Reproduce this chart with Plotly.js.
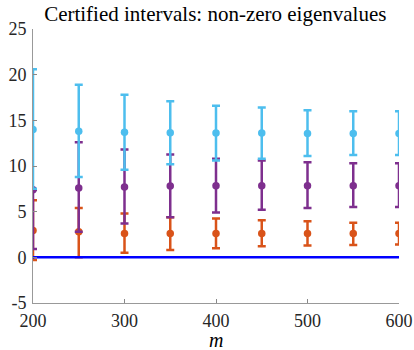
<!DOCTYPE html>
<html>
<head>
<meta charset="utf-8">
<script src="https://cdn.plot.ly/plotly-3.0.1.min.js"></script>
<style>html,body{margin:0;padding:0;background:#fff}</style>
</head>
<body>
<div id="chart" style="width:414px;height:350px"></div>
<script>
var m = [200, 250, 300, 350, 400, 450, 500, 550, 600];

var blueCenter = [14.0, 13.8, 13.7, 13.65, 13.6, 13.6, 13.55, 13.55, 13.55];
var blueUpper  = [20.6, 18.9, 17.8, 17.1, 16.6, 16.4, 16.1, 16.0, 16.0];
var blueLower  = [7.5, 8.8, 9.6, 10.2, 10.6, 10.8, 11.1, 11.2, 11.2];

var purpleCenter = [7.4, 7.6, 7.7, 7.8, 7.85, 7.85, 7.85, 7.85, 7.85];
var purpleUpper  = [7.4, 12.6, 11.8, 11.25, 10.8, 10.6, 10.4, 10.3, 10.3];
var purpleLower  = [0.9, 2.8, 3.7, 4.4, 4.9, 5.2, 5.4, 5.5, 5.5];

var orangeCenter = [2.95, 2.8, 2.6, 2.6, 2.6, 2.6, 2.6, 2.6, 2.6];
var orangeUpper  = [6.25, 5.4, 4.8, 4.4, 4.25, 4.05, 3.95, 3.8, 3.8];
var orangeLower  = [-0.3, 0.0, 0.5, 0.8, 1.0, 1.2, 1.3, 1.35, 1.4];

var zeroLine = [0, 0];
var zeroX = [200, 600];

var yTicks = [-5, 0, 5, 10, 15, 20, 25];
var yTickText = ['-5', '0', '5', '10', '15', '20', '25'];
var xTicks = [200, 300, 400, 500, 600];

function diff(a, b) { return a.map(function (v, i) { return v - b[i]; }); }

function series(center, upper, lower, color) {
  return {
    x: m, y: center, type: 'scatter', mode: 'markers',
    marker: {color: color, size: 7.5},
    error_y: {
      type: 'data', symmetric: false,
      array: diff(upper, center), arrayminus: diff(center, lower),
      color: color, thickness: 2.5, width: 4
    },
    showlegend: false, cliponaxis: true
  };
}

var traces = [
  series(orangeCenter, orangeUpper, orangeLower, '#D95319'),
  series(purpleCenter, purpleUpper, purpleLower, '#7E2F8E'),
  series(blueCenter, blueUpper, blueLower, '#4DBEEE'),
  {x: zeroX, y: zeroLine, type: 'scatter', mode: 'lines',
   line: {color: '#0000FF', width: 2.5}, showlegend: false}
];

var font = 'Liberation Serif, DejaVu Serif, serif';
var layout = {
  width: 414, height: 350,
  margin: {l: 33, r: 15, t: 29, b: 47},
  paper_bgcolor: '#fff', plot_bgcolor: '#fff',
  font: {family: font, size: 18, color: '#262626'},
  title: {text: 'Certified intervals: non-zero eigenvalues', x: 0.52, xanchor: 'center', y: 0.96, yanchor: 'middle',
          font: {family: font, size: 21, color: '#000'}},
  xaxis: {
    range: [200, 600], tickvals: xTicks, ticks: 'inside', ticklen: 4, tickcolor: '#888',
    showline: true, linecolor: '#999', linewidth: 1, showgrid: false, zeroline: false,
    ticklabelstandoff: 1,
    tickfont: {family: font, size: 18, color: '#262626'}
  },
  yaxis: {
    range: [-5, 25], tickvals: yTicks, ticktext: yTickText, ticks: 'inside', ticklen: 4, tickcolor: '#888',
    showline: true, linecolor: '#999', linewidth: 1, showgrid: false, zeroline: false,
    ticklabelstandoff: 2,
    tickfont: {family: font, size: 18, color: '#262626'}
  },
  annotations: [{
    text: '<i>m</i>', xref: 'paper', yref: 'paper', x: 0.5, y: -0.135,
    xanchor: 'center', yanchor: 'middle', showarrow: false,
    font: {family: font, size: 20, color: '#000'}
  }]
};

Plotly.newPlot('chart', traces, layout, {displayModeBar: false, staticPlot: true});
</script>
</body>
</html>
